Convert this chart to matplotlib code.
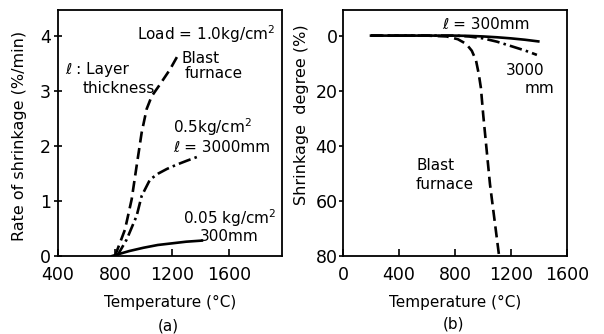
import matplotlib
matplotlib.use("Agg")
import matplotlib.pyplot as plt

plt.rcParams['font.family'] = ['DejaVu Sans']
plt.rcParams['lines.scale_dashes'] = False

# ---- Panel (a): rate of shrinkage vs temperature ----
bf_a_T = [800, 870, 917, 952, 987, 1022, 1057, 1116, 1186, 1240]
bf_a_r = [0.0, 0.48, 1.03, 1.64, 2.24, 2.67, 2.90, 3.12, 3.39, 3.64]

l3000_a_T = [815, 882, 952, 987, 1046, 1105, 1163, 1233, 1303, 1397]
l3000_a_r = [0.0, 0.30, 0.73, 1.09, 1.39, 1.50, 1.58, 1.66, 1.73, 1.82]

l300_a_T = [780, 900, 1000, 1100, 1200, 1300, 1410]
l300_a_r = [0.0, 0.09, 0.15, 0.20, 0.23, 0.26, 0.28]

xticks_a = [400, 800, 1200, 1600]
yticks_a = [0, 1, 2, 3, 4]

# ---- Panel (b): shrinkage degree vs temperature ----
bf_b_T = [200, 600, 740, 820, 880, 920, 950, 970, 985, 1002, 1025, 1050, 1080, 1115]
bf_b_s = [0, 0, 0.3, 1.3, 3.0, 5.5, 9.0, 14.0, 19.0, 29.0, 41.0, 54.0, 66.0, 80.0]

l3000_b_T = [200, 800, 900, 1000, 1100, 1200, 1300, 1385]
l3000_b_s = [0, 0, 0.3, 1.0, 2.2, 3.8, 5.4, 7.0]

l300_b_T = [200, 800, 900, 1000, 1100, 1200, 1300, 1395]
l300_b_s = [0, 0, 0.1, 0.3, 0.6, 1.0, 1.5, 2.1]

xticks_b = [0, 400, 800, 1200, 1600]
yticks_b = [0, 20, 40, 60, 80]

fig = plt.figure(figsize=(6.04, 3.34), dpi=100)
axA = fig.add_axes([58/604, 78/334, 224/604, 246/334])
axB = fig.add_axes([343/604, 78/334, 224/604, 246/334])

lw = 1.9
dashed = (0, (8, 4))
dashdot = (0, (9, 3, 1.8, 3))

# (a)
axA.plot(bf_a_T, bf_a_r, color='black', lw=lw, linestyle=dashed)
axA.plot(l3000_a_T, l3000_a_r, color='black', lw=lw, linestyle=dashdot)
axA.plot(l300_a_T, l300_a_r, color='black', lw=lw, linestyle='-')
axA.set_xlim(400, 1972)
axA.set_ylim(0, 4.47)
axA.set_xticks(xticks_a)
axA.set_yticks(yticks_a)
axA.set_xticklabels([str(v) for v in xticks_a])
axA.set_yticklabels([str(v) for v in yticks_a])
axA.tick_params(axis='x', direction='in', length=5, width=1.2, pad=7, labelsize=12.5)
axA.tick_params(axis='y', direction='inout', length=6, width=1.2, pad=2, labelsize=12.5)
axA.set_xlabel('Temperature (°C)', fontsize=11, labelpad=8)
axA.set_ylabel('Rate of shrinkage (%/min)', fontsize=11.5)
axA.yaxis.set_label_coords(-0.14, 0.49)
fs = 11
axA.text(954, 4.04, 'Load = 1.0kg/cm$^2$', fontsize=fs, va='center', ha='left')
axA.text(449, 3.39, 'ℓ : Layer', fontsize=fs, va='center', ha='left')
axA.text(575, 3.05, 'thickness', fontsize=fs, va='center', ha='left')
axA.text(1270, 3.58, 'Blast', fontsize=fs, va='center', ha='left')
axA.text(1291, 3.31, 'furnace', fontsize=fs, va='center', ha='left')
axA.text(1207, 2.34, '0.5kg/cm$^2$', fontsize=fs, va='center', ha='left')
axA.text(1207, 1.97, 'ℓ = 3000mm', fontsize=fs, va='center', ha='left')
axA.text(1277, 0.68, '0.05 kg/cm$^2$', fontsize=fs, va='center', ha='left')
axA.text(1397, 0.36, '300mm', fontsize=fs, va='center', ha='left')
fig.text(168/604, 1 - 326/334, '(a)', fontsize=11, ha='center', va='center')

# (b)
axB.plot(bf_b_T, bf_b_s, color='black', lw=lw, linestyle=dashed)
axB.plot(l3000_b_T, l3000_b_s, color='black', lw=lw, linestyle=dashdot)
axB.plot(l300_b_T, l300_b_s, color='black', lw=lw, linestyle='-')
axB.set_xlim(0, 1600)
axB.set_ylim(80, -9.3)
axB.set_xticks(xticks_b)
axB.set_yticks(yticks_b)
axB.set_xticklabels([str(v) for v in xticks_b])
axB.set_yticklabels([str(v) for v in yticks_b])
axB.tick_params(axis='x', direction='in', length=5, width=1.2, pad=7, labelsize=12.5)
axB.tick_params(axis='y', direction='out', length=3, width=1.2, pad=1, labelsize=12.5)
axB.set_xlabel('Temperature (°C)', fontsize=11, labelpad=8)
axB.set_ylabel('Shrinkage  degree (%)', fontsize=11.5)
axB.yaxis.set_label_coords(-0.152, 0.575)
axB.text(1023, -3.9, 'ℓ = 300mm', fontsize=fs, va='center', ha='center')
axB.text(1440, 12.6, '3000', fontsize=fs, va='center', ha='right')
axB.text(1510, 19.2, 'mm', fontsize=fs, va='center', ha='right')
axB.text(522, 47, 'Blast', fontsize=fs, va='center', ha='left')
axB.text(522, 54, 'furnace', fontsize=fs, va='center', ha='left')
fig.text(453/604, 1 - 324/334, '(b)', fontsize=11, ha='center', va='center')

for ax in (axA, axB):
    for s in ax.spines.values():
        s.set_linewidth(1.3)

fig.savefig('out.png', dpi=100)
